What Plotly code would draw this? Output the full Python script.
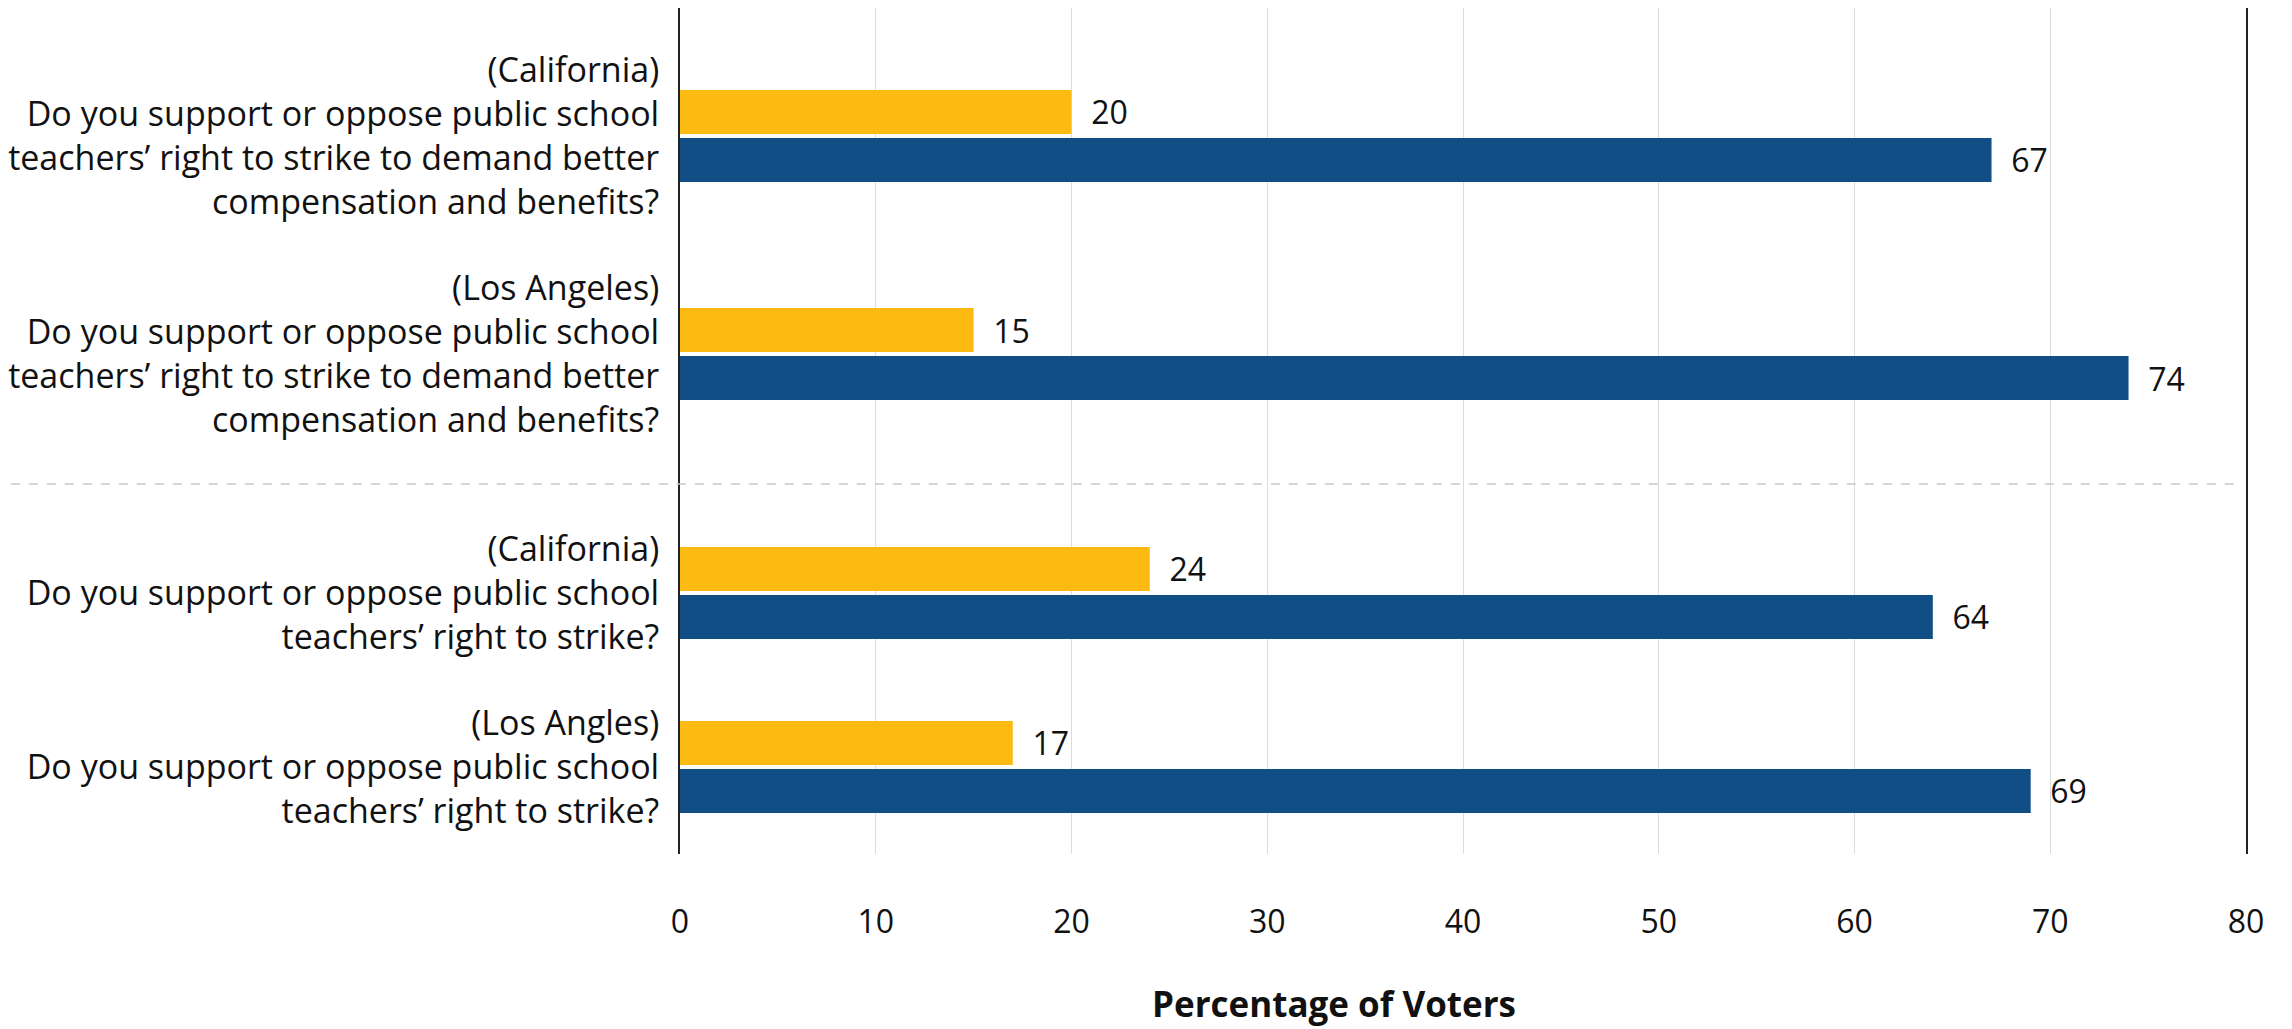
import plotly.graph_objects as go
from plotly.subplots import make_subplots

# ---- data ----
top_labels = [
    "(California)<br>Do you support or oppose public school<br>teachers’ right to strike to demand better<br>compensation and benefits?",
    "(Los Angeles)<br>Do you support or oppose public school<br>teachers’ right to strike to demand better<br>compensation and benefits?",
]
bottom_labels = [
    "(California)<br>Do you support or oppose public school<br>teachers’ right to strike?",
    "(Los Angles)<br>Do you support or oppose public school<br>teachers’ right to strike?",
]
oppose_top = [20, 15]
support_top = [67, 74]
oppose_bottom = [24, 17]
support_bottom = [64, 69]
x_ticks = [0, 10, 20, 30, 40, 50, 60, 70, 80]

YELLOW = "#FDBB12"
BLUE = "#114E85"
FONT = "Open Sans"
FS = 32
FS_LABEL = 34

# page is offset by the body margin (8px), so the figure is 8px smaller
W, H = 2284, 1021
L, R, T, B = 670, 46, 0, 175
plot_w = W - L - R
plot_h = H - T - B
top_h = 476
bot_h = plot_h - top_h

fig = make_subplots(rows=2, cols=1, shared_xaxes=True, vertical_spacing=0,
                    row_heights=[top_h, bot_h])

def add_pair(labels, opp, sup, row, unit_px):
    bw = 44 / unit_px
    common = dict(orientation="h", width=bw, textposition="outside",
                  texttemplate="\u00a0\u00a0%{x}",
                  textfont=dict(family=FONT, size=FS, color="#111"),
                  constraintext="none", cliponaxis=False, showlegend=False)
    fig.add_trace(go.Bar(y=labels, x=opp, name="Oppose",
                         marker=dict(color=YELLOW, line=dict(width=0)),
                         offset=-46 / unit_px, **common), row=row, col=1)
    fig.add_trace(go.Bar(y=labels, x=sup, name="Support",
                         marker=dict(color=BLUE, line=dict(width=0)),
                         offset=2 / unit_px, **common), row=row, col=1)

add_pair(top_labels, oppose_top, support_top, 1, 218)
add_pair(bottom_labels, oppose_bottom, support_bottom, 2, 174)

fig.update_xaxes(range=[0, 80], tickvals=x_ticks, showgrid=True,
                 gridcolor="#dcdcdc", gridwidth=1, zeroline=False, showline=False)
fig.update_xaxes(ticks="outside", ticklen=40, tickcolor="rgba(0,0,0,0)",
                 tickfont=dict(family=FONT, size=FS, color="#111"), row=2, col=1)

fig.update_yaxes(type="category", showgrid=False, zeroline=False,
                 showline=True, linecolor="#222", linewidth=2, mirror=True,
                 ticks="outside", ticklen=12, tickcolor="rgba(0,0,0,0)",
                 tickfont=dict(family=FONT, size=FS_LABEL, color="#111"))
fig.update_yaxes(range=[1.596, -0.587], row=1, col=1)
fig.update_yaxes(range=[1.5, -0.626], row=2, col=1)

# dashed separator between panes
sep_y = bot_h / plot_h
fig.add_shape(type="line", xref="paper", yref="paper",
              x0=-L / plot_w, x1=(2230 - L) / plot_w, y0=sep_y, y1=sep_y,
              line=dict(color="#c8c8c8", width=1.5, dash="dash"))

fig.add_annotation(text="<b>Percentage of Voters</b>", xref="paper", yref="paper",
                   x=(1325 - L) / plot_w, y=-(996 - (T + plot_h)) / plot_h,
                   xanchor="center", yanchor="middle", showarrow=False,
                   font=dict(family=FONT, size=35, color="#111"))

fig.update_layout(
    width=W, height=H, barmode="overlay",
    margin=dict(l=L, r=R, t=T, b=B),
    paper_bgcolor="white", plot_bgcolor="white",
    font=dict(family=FONT, size=FS, color="#111"),
)

fig.write_html("out.html")
